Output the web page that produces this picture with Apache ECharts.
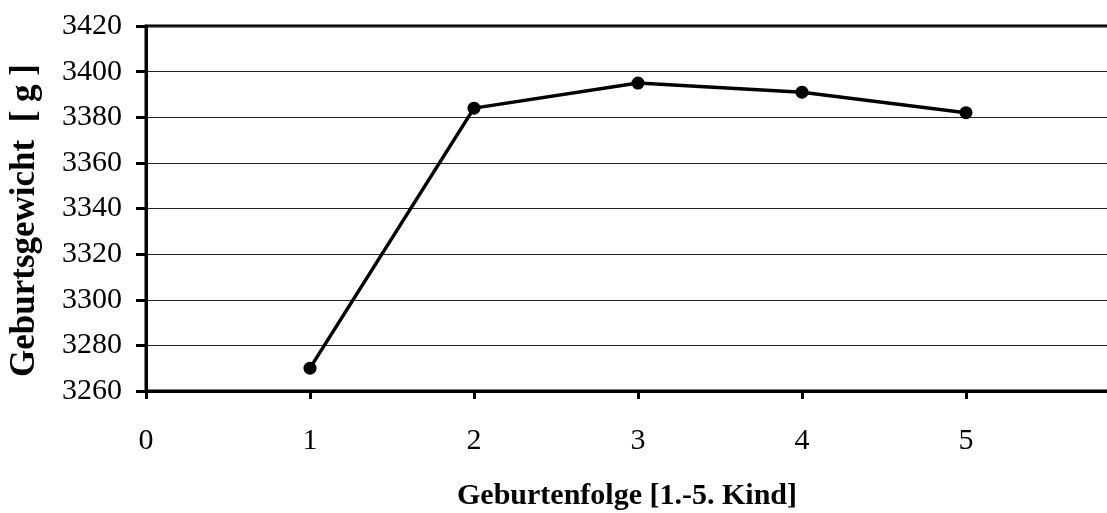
<!DOCTYPE html>
<html>
<head>
<meta charset="utf-8">
<script src="https://cdn.jsdelivr.net/npm/echarts@6/dist/echarts.min.js"></script>
<style>html,body{margin:0;padding:0;background:#fff;}#c{width:1107px;height:513px;}</style>
</head>
<body>
<div id="c"></div>
<script>
var xValues = [1, 2, 3, 4, 5];
var weights = [3270, 3384, 3395, 3391, 3382];
var xTitle = 'Geburtenfolge [1.-5. Kind]';
var yTitle = 'Geburtsgewicht  [ g ]';

var chart = echarts.init(document.getElementById('c'));
var font = '"Liberation Serif", "Times New Roman", serif';
chart.setOption({
  animation: false,
  backgroundColor: '#fff',
  grid: { left: 146, top: 26, width: 984, bottom: 122, show: true, borderColor: '#000', borderWidth: 3, outerBoundsMode: 'none', containLabel: false },
  xAxis: {
    type: 'value', min: 0, max: 6, interval: 1,
    axisLine: { lineStyle: { color: '#000', width: 3 } },
    axisTick: { show: true, length: 8, lineStyle: { color: '#000', width: 3 } },
    axisLabel: { color: '#000', fontFamily: font, fontSize: 30, margin: 35 },
    splitLine: { show: false },
    name: xTitle, nameLocation: 'middle', nameGap: 90,
    nameTextStyle: { color: '#000', fontFamily: font, fontSize: 30, fontWeight: 'bold', padding: [0, 22, 0, 0] }
  },
  yAxis: {
    type: 'value', min: 3260, max: 3420, interval: 20,
    axisLine: { show: true, lineStyle: { color: '#000', width: 3 } },
    axisTick: { show: true, length: 10, lineStyle: { color: '#000', width: 3 } },
    axisLabel: { color: '#000', fontFamily: font, fontSize: 30, margin: 24, formatter: function (v) { return String(v); } },
    splitLine: { show: true, lineStyle: { color: '#222', width: 1 } },
    name: yTitle, nameLocation: 'middle', nameGap: 104, nameRotate: 90,
    nameTextStyle: { color: '#000', fontFamily: font, fontSize: 35, fontWeight: 'bold', padding: [0, 24, 0, 0] }
  },
  series: [{
    type: 'line',
    data: xValues.map(function (x, i) { return [x, weights[i]]; }),
    symbol: 'circle', symbolSize: 13,
    itemStyle: { color: '#000' },
    lineStyle: { color: '#000', width: 3.5 }
  }]
});
</script>
</body>
</html>
